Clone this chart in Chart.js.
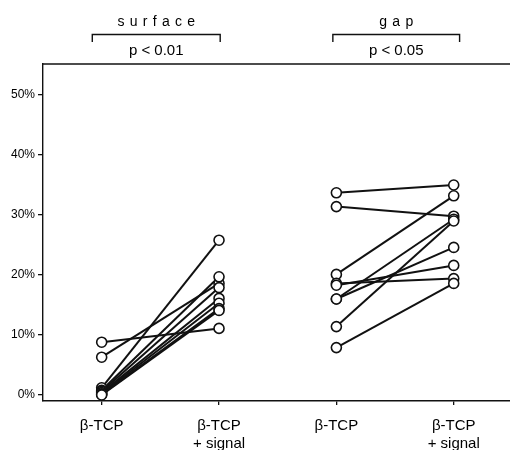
<!DOCTYPE html>
<html>
<head>
<meta charset="utf-8">
<script src="https://cdn.jsdelivr.net/npm/chart.js@4.4.1/dist/chart.umd.min.js"></script>
<style>
  html, body { margin: 0; padding: 0; background: #fff; overflow: hidden; }
  #wrap { width: 510px; height: 450px; overflow: hidden; }
</style>
</head>
<body>
<div id="wrap"><canvas id="pairChart" width="519" height="450"></canvas></div>
<script>
// groups and their significance labels
const groups = ['surface', 'gap'];
const pValues = ['p < 0.01', 'p < 0.05'];
const categories = [['β-TCP'], ['β-TCP', '+ signal'], ['β-TCP'], ['β-TCP', '+ signal']];
const yTicks = [0, 10, 20, 30, 40, 50];

// paired values (%), one entry per specimen
const surfaceTcp    = [8.8, 6.3, 1.2, 0.8, 0.6, 0.4, 0.2, 0.1, 0.0];
const surfaceSignal = [11.1, 18.6, 25.8, 19.7, 17.9, 16.1, 15.3, 14.4, 14.1];
const gapTcp        = [33.7, 31.4, 20.1, 18.6, 18.3, 16.0, 16.0, 11.4, 7.9];
const gapSignal     = [35.0, 29.8, 33.2, 19.4, 21.6, 29.3, 24.6, 29.0, 18.6];

const ink = '#111';
const font = 'Liberation Sans, Arial, Helvetica, sans-serif';

function pairSets(a, b, xa, xb) {
    return a.map((v, i) => ({
        data: [{ x: xa, y: v }, { x: xb, y: b[i] }],
        showLine: true,
        borderColor: ink,
        borderWidth: 2,
        pointRadius: 0,
        order: 2
    }));
}

const allPoints = [];
surfaceTcp.forEach(v => allPoints.push({ x: 0.5, y: v }));
surfaceSignal.forEach(v => allPoints.push({ x: 1.5, y: v }));
gapTcp.forEach(v => allPoints.push({ x: 2.5, y: v }));
gapSignal.forEach(v => allPoints.push({ x: 3.5, y: v }));

// brackets with group name above and p-value below
const headerPlugin = {
    id: 'header',
    afterDraw(chart) {
        const ctx = chart.ctx;
        const xs = chart.scales.x;
        const area = chart.chartArea;
        ctx.save();
        ctx.strokeStyle = ink;
        ctx.lineWidth = 1.4;
        // top frame line
        ctx.beginPath();
        ctx.moveTo(area.left, area.top);
        ctx.lineTo(area.right, area.top);
        ctx.stroke();

        const spans = [[0.42, 1.51], [2.47, 3.55]];
        spans.forEach((s, i) => {
            const x0 = xs.getPixelForValue(s[0]);
            const x1 = xs.getPixelForValue(s[1]);
            const cx = (x0 + x1) / 2;
            ctx.beginPath();
            ctx.moveTo(x0, 42);
            ctx.lineTo(x0, 34.5);
            ctx.lineTo(x1, 34.5);
            ctx.lineTo(x1, 42);
            ctx.stroke();

            // spaced-out group name
            ctx.fillStyle = '#000';
            ctx.font = '14px ' + font;
            ctx.textBaseline = 'alphabetic';
            ctx.textAlign = 'left';
            const gapPx = 5.3;
            const letters = groups[i].split('');
            const w = letters.reduce((t, c) => t + ctx.measureText(c).width, 0) + gapPx * (letters.length - 1);
            let x = cx - w / 2;
            letters.forEach(c => {
                ctx.fillText(c, x, 25.5);
                x += ctx.measureText(c).width + gapPx;
            });

            ctx.font = '15px ' + font;
            ctx.textAlign = 'center';
            ctx.fillText(pValues[i], cx, 55);
        });
        ctx.restore();
    }
};

const ctx = document.getElementById('pairChart').getContext('2d');
new Chart(ctx, {
    type: 'scatter',
    data: {
        datasets: [
            {
                data: allPoints,
                pointRadius: 5,
                pointBorderWidth: 1.6,
                pointBackgroundColor: '#fff',
                pointBorderColor: ink,
                showLine: false,
                order: 1
            },
            ...pairSets(surfaceTcp, surfaceSignal, 0.5, 1.5),
            ...pairSets(gapTcp, gapSignal, 2.5, 3.5)
        ]
    },
    options: {
        responsive: false,
        animation: false,
        layout: { padding: { top: 64, left: 0, right: 0, bottom: 0 } },
        plugins: {
            legend: { display: false },
            tooltip: { enabled: false }
        },
        scales: {
            x: {
                type: 'linear',
                min: 0,
                max: 4,
                afterBuildTicks: s => { s.ticks = [0.5, 1.5, 2.5, 3.5].map(v => ({ value: v })); },
                afterFit: s => { s.height = 49; },
                grid: { drawOnChartArea: false, drawTicks: true, tickLength: 4, color: ink, lineWidth: 1.3 },
                border: { display: true, color: ink, width: 1.4 },
                ticks: {
                    autoSkip: false,
                    maxRotation: 0,
                    padding: 12,
                    color: '#000',
                    font: { family: font, size: 15, lineHeight: 1.2 },
                    callback: (v) => categories[Math.floor(v)]
                }
            },
            y: {
                min: -1,
                max: 55.17,
                afterBuildTicks: s => { s.ticks = yTicks.map(v => ({ value: v })); },
                afterFit: s => { s.width = 43; },
                grid: { drawOnChartArea: false, drawTicks: true, tickLength: 5, color: ink, lineWidth: 1.3 },
                border: { display: true, color: ink, width: 1.4 },
                ticks: {
                    padding: 3,
                    color: '#000',
                    font: { family: font, size: 12 },
                    callback: v => v + '%'
                }
            }
        }
    },
    plugins: [headerPlugin]
});
</script>
</body>
</html>
